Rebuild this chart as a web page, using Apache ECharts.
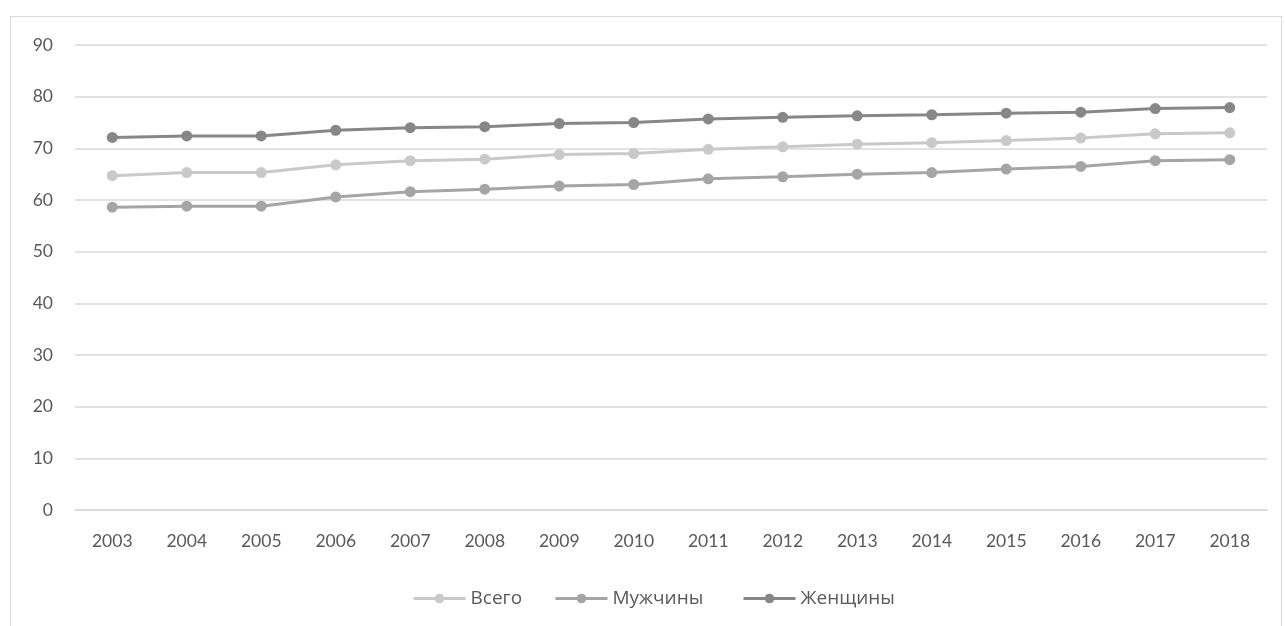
<!DOCTYPE html>
<html><head><meta charset="utf-8">
<script src="https://cdn.jsdelivr.net/npm/echarts@6/dist/echarts.min.js"></script>
<style>
html,body{margin:0;padding:0;background:#fff;}
#frame{position:absolute;left:10px;top:16px;width:1272px;height:640px;border:1px solid #d9d9d9;box-sizing:border-box;}
#c{position:absolute;left:0;top:0;width:1285px;height:626px;}
</style></head>
<body>
<div id="frame"></div>
<div id="c"></div>
<script>
const years = ['2003','2004','2005','2006','2007','2008','2009','2010','2011','2012','2013','2014','2015','2016','2017','2018'];
const total = [64.7,65.3,65.3,66.8,67.6,67.9,68.8,69.0,69.8,70.3,70.8,71.1,71.5,72.0,72.8,73.0];
const men   = [58.6,58.8,58.8,60.6,61.6,62.1,62.7,63.0,64.1,64.5,65.0,65.3,66.0,66.5,67.6,67.8];
const women = [72.1,72.4,72.4,73.5,74.0,74.2,74.8,75.0,75.7,76.0,76.3,76.5,76.8,77.0,77.7,77.9];
const names = ['Всего','Мужчины','Женщины'];
const colors = ['#c9c9c9','#a5a5a5','#878787'];
const font = 'Lato, "Open Sans", sans-serif';
const legendFont = '"Open Sans", Lato, sans-serif';
const legendLeft = [412, 554, 742];
const chart = echarts.init(document.getElementById('c'));
function mk(name, data, color){
  return {name, type:'line', data, symbol:'circle', symbolSize:11,
    lineStyle:{color, width:3}, itemStyle:{color}, z: 2};
}
chart.setOption({
  animation:false,
  textStyle:{fontFamily:font},
  grid:{left:75, right:18, top:45, bottom:116},
  legend: names.map((n,i)=>({bottom:18, left:legendLeft[i], itemWidth:52, itemHeight:12,
    data:[n], lineStyle:{width:3}, padding:0,
    textStyle:{fontSize:19, color:'#595959', fontFamily:legendFont}})),
  xAxis:{type:'category', data:years, boundaryGap:true,
    axisLine:{show:true, lineStyle:{color:'#d9d9d9', width:1.5}}, axisTick:{show:false},
    axisLabel:{fontSize:17.5, color:'#595959', margin:22}},
  yAxis:{type:'value', min:0, max:90, interval:10,
    axisLine:{show:false}, axisTick:{show:false},
    splitLine:{lineStyle:{color:'#d9d9d9', width:1.5}},
    axisLabel:{fontSize:17.5, color:'#595959', margin:22}},
  series:[mk(names[0], total, colors[0]), mk(names[1], men, colors[1]), mk(names[2], women, colors[2])]
});
</script>
</body></html>
